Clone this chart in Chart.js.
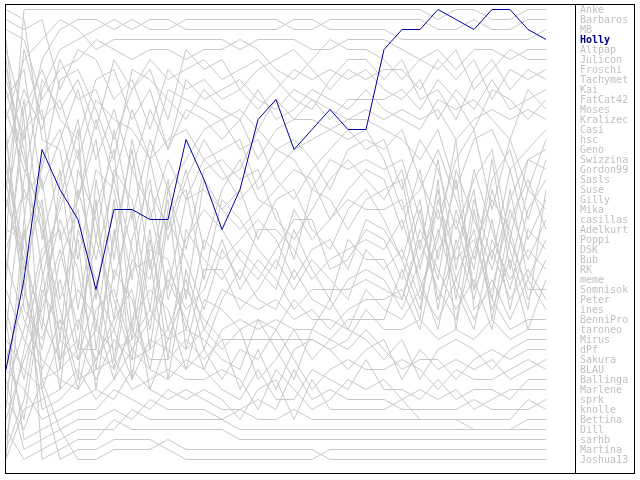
<!DOCTYPE html>
<html>
<head>
<meta charset="utf-8">
<script src="https://cdn.jsdelivr.net/npm/chart.js@4.4.1/dist/chart.umd.min.js"></script>
<style>
body { margin: 0; background: #fff; }
#wrap { position: relative; width: 640px; height: 480px; }
#legende { position: absolute; left: 580px; top: 5px; font: 10px "DejaVu Sans Mono", monospace; line-height: 10px; color: #c0c0c0; white-space: pre; }
#legende .actif { color: #000080; font-weight: bold; }
</style>
</head>
<body>
<div id="wrap">
  <canvas id="myChart" width="640" height="480"></canvas>
  <div id="legende"></div>
</div>
<script>
// Tours de jeu (axe X)
const tours = [1, 2, 3, 4, 5, 6, 7, 8, 9, 10, 11, 12, 13, 14, 15, 16, 17, 18, 19, 20, 21, 22, 23, 24, 25, 26, 27, 28, 29, 30, 31];

// Joueurs, dans l'ordre du classement final
const joueurs = ['Anke', 'Barbaros', 'MB', 'Holly', 'Altpap', 'Julicon', 'Froschi', 'Tachymet', 'Kai', 'FatCat42',
    'Moses', 'Kralizec', 'Casi', 'hsc', 'Geno', 'Swizzina', 'Gordon99', 'Sasls', 'Suse', 'Gilly',
    'Mika', 'casillas', 'Adelkurt', 'Poppi', 'DSK', 'Bub', 'RK', 'meme', 'Somnisok', 'Peter',
    'ines', 'BenniPro', 'taroneo', 'Mirus', 'dPf', 'Sakura', 'BLAU', 'Ballinga', 'Marlene', 'sprk',
    'knolle', 'Bettina', 'Dill', 'sarhb', 'Martina', 'Joshua13'];

const joueurActif = 'Holly';

// Classement de chaque joueur par tour
const rAnke     = [24, 1, 1, 1, 1, 1, 1, 1, 1, 1,  1, 1, 1, 1, 1, 1, 1, 1, 1, 1,  1, 1, 1, 1, 2, 1, 1, 2, 2, 1, 1];
const rBarbaros = [8, 14, 6, 3, 2, 2, 3, 2, 3, 3,  2, 2, 2, 2, 2, 2, 3, 3, 2, 2,  2, 2, 2, 2, 3, 3, 2, 3, 3, 2, 2];
const rMB       = [41, 22, 9, 5, 4, 3, 2, 3, 2, 2,  3, 3, 3, 3, 3, 3, 2, 2, 3, 3,  3, 3, 4, 4, 4, 4, 4, 4, 4, 4, 3];
const rHolly    = [37, 28, 15, 19, 22, 29, 21, 21, 22, 22,  14, 18, 23, 19, 12, 10, 15, 13, 11, 13,  13, 5, 3, 3, 1, 2, 3, 1, 1, 3, 4];
const rAltpap   = [12, 6, 4, 2, 3, 5, 4, 4, 4, 4,  4, 4, 4, 5, 4, 4, 4, 5, 5, 4,  4, 4, 5, 6, 5, 7, 5, 5, 6, 5, 5];
const rJulicon  = [3, 4, 10, 7, 6, 4, 5, 6, 5, 5,  6, 5, 5, 4, 5, 7, 8, 6, 4, 5,  5, 6, 8, 6, 7, 5, 9, 7, 5, 6, 6];
const rFroschi  = [33, 18, 8, 11, 8, 13, 6, 9, 7, 12,  5, 7, 6, 9, 7, 6, 5, 7, 9, 7,  8, 7, 7, 9, 6, 8, 6, 10, 7, 8, 7];
const rTachymet = [15, 9, 13, 6, 10, 9, 14, 9, 6, 8,  7, 6, 8, 7, 6, 8, 10, 11, 8, 6,  6, 8, 6, 10, 9, 12, 8, 6, 9, 7, 8];
const rKai      = [2, 3, 2, 9, 5, 6, 10, 8, 13, 7,  9, 8, 10, 9, 11, 9, 7, 8, 7, 8,  7, 9, 10, 8, 12, 9, 11, 8, 11, 10, 9];
const rFatCat42 = [28, 11, 7, 12, 14, 8, 7, 12, 9, 15,  8, 10, 9, 8, 10, 11, 9, 10, 12, 10,  10, 10, 9, 11, 8, 10, 13, 9, 10, 12, 10];
const rMoses    = [6, 20, 17, 8, 7, 11, 16, 7, 8, 10,  12, 9, 11, 12, 9, 12, 11, 9, 10, 11,  9, 11, 12, 13, 10, 11, 10, 12, 14, 9, 11];
const rKralizec = [19, 5, 12, 10, 16, 10, 12, 13, 16, 9,  10, 11, 12, 11, 13, 10, 12, 12, 13, 12,  11, 12, 11, 12, 11, 14, 12, 11, 12, 11, 12];
const rCasi     = [10, 7, 19, 14, 9, 16, 11, 17, 11, 15,  11, 12, 14, 12, 16, 13, 12, 10, 11, 12,  12, 13, 14, 16, 13, 19, 14, 13, 17, 15, 13];
const rHsc      = [36, 30, 16, 13, 20, 12, 18, 11, 16, 14,  13, 16, 18, 17, 13, 15, 14, 16, 19, 15,  14, 15, 13, 18, 22, 16, 13, 21, 14, 19, 14];
const rGeno     = [17, 25, 33, 18, 12, 24, 13, 22, 14, 19,  16, 13, 12, 15, 14, 18, 20, 17, 15, 13,  15, 14, 19, 14, 17, 23, 18, 15, 24, 16, 15];
const rSwizzina = [27, 13, 11, 24, 20, 14, 26, 14, 22, 16,  20, 16, 15, 14, 19, 17, 15, 14, 13, 14,  13, 16, 21, 19, 15, 20, 26, 18, 15, 22, 16];
const rGordon99 = [1, 2, 14, 15, 26, 17, 19, 28, 16, 24,  18, 14, 17, 20, 18, 15, 16, 19, 16, 17,  16, 17, 16, 22, 28, 17, 22, 27, 20, 16, 17];
const rSasls    = [44, 35, 26, 21, 15, 30, 17, 20, 31, 19,  25, 17, 16, 18, 17, 22, 24, 21, 18, 16,  18, 20, 17, 25, 16, 27, 17, 23, 29, 21, 18];
const rSuse     = [14, 27, 20, 34, 17, 22, 32, 17, 21, 29,  20, 19, 21, 23, 21, 19, 17, 18, 22, 19,  17, 18, 23, 17, 26, 18, 29, 19, 25, 31, 19];
const rGilly    = [21, 10, 24, 17, 31, 21, 15, 33, 19, 23,  17, 25, 19, 16, 20, 21, 26, 19, 20, 23,  20, 19, 18, 27, 19, 30, 20, 26, 17, 24, 20];
const rMika     = [31, 38, 28, 20, 13, 35, 24, 15, 27, 18,  30, 18, 21, 19, 24, 20, 19, 23, 25, 21,  19, 22, 26, 20, 31, 21, 27, 16, 27, 19, 21];
const rCasillas = [9, 16, 22, 37, 19, 26, 18, 25, 33, 21,  19, 28, 20, 22, 25, 27, 21, 24, 22, 20,  21, 21, 20, 29, 24, 14, 31, 29, 21, 26, 22];
const rAdelkurt = [39, 33, 25, 23, 35, 20, 36, 24, 18, 30,  24, 21, 23, 26, 28, 25, 22, 22, 27, 26,  23, 24, 28, 21, 30, 25, 19, 32, 22, 18, 23];
const rPoppi    = [18, 29, 35, 26, 21, 33, 20, 38, 25, 26,  33, 24, 26, 24, 22, 24, 28, 25, 24, 27,  22, 23, 26, 31, 20, 26, 24, 30, 19, 28, 24];
const rDSK      = [25, 19, 23, 31, 38, 18, 28, 21, 35, 22,  26, 31, 25, 28, 23, 23, 25, 28, 26, 25,  24, 25, 22, 28, 33, 24, 30, 22, 31, 23, 25];
const rBub      = [35, 42, 30, 22, 27, 37, 23, 34, 23, 36,  23, 26, 28, 25, 27, 29, 23, 27, 30, 24,  26, 26, 30, 24, 29, 32, 25, 20, 23, 30, 26];
const rRK       = [7, 15, 27, 39, 23, 28, 37, 26, 28, 20,  35, 27, 27, 31, 29, 26, 29, 26, 28, 30,  25, 27, 25, 30, 23, 29, 33, 24, 28, 25, 27];
const rMeme     = [42, 36, 31, 25, 33, 24, 30, 36, 24, 33,  28, 35, 30, 27, 30, 31, 27, 30, 31, 28,  27, 28, 31, 26, 21, 28, 23, 31, 26, 33, 28];
const rSomnisok = [23, 24, 18, 30, 24, 39, 27, 30, 37, 27,  31, 29, 24, 29, 26, 28, 31, 29, 29, 29,  28, 29, 30, 23, 27, 31, 28, 33, 24, 29, 29];
const rPeter    = [13, 31, 34, 28, 36, 29, 33, 27, 26, 38,  27, 33, 29, 30, 31, 30, 32, 31, 33, 31,  30, 30, 29, 33, 25, 22, 29, 25, 30, 27, 30];
const rInes     = [45, 40, 29, 33, 29, 32, 38, 32, 29, 31,  37, 30, 31, 33, 32, 33, 30, 32, 32, 33,  29, 31, 32, 29, 32, 28, 32, 28, 32, 28, 31];
const rBenniPro = [29, 34, 37, 32, 39, 31, 29, 35, 32, 28,  32, 37, 33, 32, 33, 32, 33, 33, 34, 32,  32, 32, 27, 32, 18, 33, 21, 30, 33, 32, 32];
const rTaroneo  = [20, 26, 32, 36, 32, 36, 32, 29, 39, 34,  29, 32, 34, 34, 34, 34, 34, 34, 35, 34,  31, 33, 33, 32, 34, 33, 34, 32, 34, 33, 33];
const rMirus    = [34, 37, 39, 34, 36, 33, 35, 34, 31, 34,  33, 34, 36, 37, 32, 35, 38, 33, 30, 33,  34, 36, 34, 38, 35, 34, 35, 37, 35, 34, 34];
const rDPf      = [11, 17, 21, 36, 34, 38, 34, 36, 35, 33,  35, 33, 35, 33, 38, 36, 33, 36, 34, 35,  33, 35, 37, 36, 36, 38, 36, 35, 36, 35, 35];
const rSakura   = [40, 43, 38, 37, 35, 35, 37, 33, 36, 36,  34, 36, 34, 39, 35, 39, 35, 34, 35, 37,  35, 34, 38, 35, 37, 36, 37, 36, 38, 37, 36];
const rBLAU     = [26, 32, 36, 38, 39, 36, 33, 38, 34, 35,  37, 35, 38, 35, 36, 33, 36, 39, 37, 36,  37, 37, 36, 37, 39, 37, 38, 38, 37, 36, 37];
const rBallinga = [46, 41, 40, 39, 37, 40, 38, 35, 37, 38,  36, 37, 39, 40, 37, 40, 40, 37, 38, 39,  36, 39, 39, 40, 38, 40, 39, 39, 40, 38, 38];
const rMarlene  = [16, 28, 41, 40, 38, 37, 36, 39, 38, 37,  38, 38, 37, 38, 41, 37, 39, 41, 40, 38,  39, 38, 40, 39, 40, 39, 41, 40, 39, 39, 39];
const rSprk     = [37, 39, 42, 41, 40, 39, 40, 37, 39, 40,  39, 40, 41, 41, 40, 41, 37, 40, 39, 40,  40, 40, 41, 41, 41, 41, 40, 41, 41, 41, 40];
const rKnolle   = [32, 44, 43, 42, 41, 41, 39, 40, 41, 39,  40, 39, 40, 42, 39, 38, 42, 38, 41, 41,  41, 41, 40, 42, 42, 42, 42, 42, 42, 40, 41];
const rBettina  = [38, 45, 44, 43, 42, 42, 41, 42, 40, 41,  41, 41, 42, 41, 42, 42, 41, 42, 42, 42,  42, 42, 42, 42, 42, 42, 43, 43, 43, 42, 42];
const rDill     = [43, 46, 45, 44, 43, 43, 43, 41, 42, 42,  42, 42, 42, 43, 43, 43, 43, 43, 43, 43,  43, 43, 43, 43, 43, 43, 43, 43, 43, 43, 43];
const rSarhb    = [4, 21, 46, 45, 44, 44, 42, 43, 43, 43,  43, 43, 43, 44, 44, 44, 44, 44, 44, 44,  44, 44, 44, 44, 44, 44, 44, 44, 44, 44, 44];
const rMartina  = [46, 23, 39, 46, 45, 45, 44, 44, 44, 45,  46, 46, 46, 46, 46, 46, 46, 46, 45, 45,  45, 45, 45, 45, 45, 45, 45, 45, 45, 45, 45];
const rJoshua13 = [5, 12, 38, 43, 46, 46, 45, 45, 45, 44,  45, 45, 45, 45, 45, 45, 45, 45, 46, 46,  46, 46, 46, 46, 46, 46, 46, 46, 46, 46, 46];

const series = [rAnke, rBarbaros, rMB, rHolly, rAltpap, rJulicon, rFroschi, rTachymet, rKai, rFatCat42,
    rMoses, rKralizec, rCasi, rHsc, rGeno, rSwizzina, rGordon99, rSasls, rSuse, rGilly,
    rMika, rCasillas, rAdelkurt, rPoppi, rDSK, rBub, rRK, rMeme, rSomnisok, rPeter,
    rInes, rBenniPro, rTaroneo, rMirus, rDPf, rSakura, rBLAU, rBallinga, rMarlene, rSprk,
    rKnolle, rBettina, rDill, rSarhb, rMartina, rJoshua13];

// Cadre noir autour du graphique et de la légende
const cadre = {
    id: 'cadre',
    afterDraw(chart) {
        const c = chart.ctx;
        const a = chart.chartArea;
        c.save();
        c.strokeStyle = '#000';
        c.lineWidth = 1;
        c.strokeRect(a.left - 0.5, a.top - 0.5, chart.width - a.left - 5, a.bottom - a.top);
        c.beginPath();
        c.moveTo(a.right + 29.5, a.top - 0.5);
        c.lineTo(a.right + 29.5, a.bottom - 0.5);
        c.stroke();
        c.restore();
    }
};

// Légende : un nom par ligne
function genererLegende() {
    const div = document.getElementById('legende');
    joueurs.forEach(nom => {
        const ligne = document.createElement('div');
        ligne.textContent = nom;
        if (nom === joueurActif) ligne.className = 'actif';
        div.appendChild(ligne);
    });
}

// Fonction pour générer le graphique
function genererGraphique() {
    const ctx = document.getElementById('myChart').getContext('2d');
    const datasets = joueurs.map((nom, i) => ({
        label: nom,
        data: series[i],
        borderColor: nom === joueurActif ? '#0000a0' : '#c8c8c8',
        borderWidth: 1,
        pointRadius: 0,
        tension: 0,
        fill: false,
        order: nom === joueurActif ? 0 : 1  // Holly par-dessus
    }));

    new Chart(ctx, {
        type: 'line',
        data: { labels: tours, datasets: datasets },
        options: {
            responsive: false,
            animation: false,
            layout: { padding: { left: 6, right: 94, top: 5, bottom: 6 } },
            scales: {
                x: { display: false, offset: false },
                y: { display: false, reverse: true, min: 0.55, max: 47.45 }
            },
            plugins: {
                legend: { display: false },
                tooltip: { enabled: false }
            }
        },
        plugins: [cadre]
    });
}

genererLegende();
genererGraphique();
</script>
</body>
</html>
